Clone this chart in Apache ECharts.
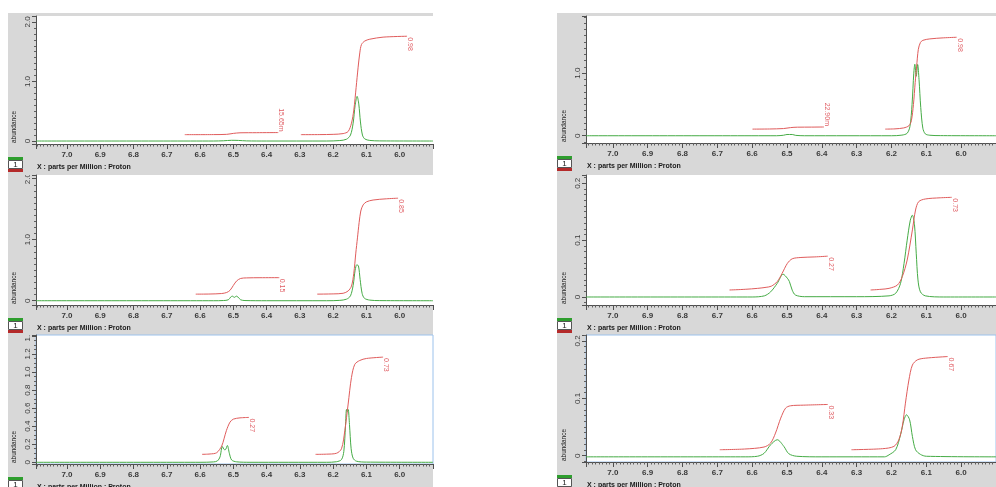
<!DOCTYPE html>
<html><head><meta charset="utf-8">
<script src="https://cdn.jsdelivr.net/npm/echarts@6/dist/echarts.min.js"></script>
<style>html,body{margin:0;padding:0;background:#fff}#c{width:996px;height:487px}</style>
</head><body><div id="c"></div>
<script>
// ---------- data (ppm, abundance) ----------
const greenL1 = [[7.093,0],[6.56,0],[6.53,0.004],[6.505,0.012],[6.485,0.01],[6.46,0.002],[6.40,0],[6.22,0],[6.18,0.008],[6.16,0.03],[6.148,0.1],[6.14,0.3],[6.134,0.6],[6.128,0.75],[6.123,0.62],[6.118,0.32],[6.112,0.1],[6.105,0.035],[6.09,0.01],[6.06,0.002],[5.9,0]];
const redL1a = [[6.646,0.107],[6.56,0.108],[6.52,0.112],[6.50,0.128],[6.48,0.138],[6.43,0.14],[6.365,0.142]];
const redL1b = [[6.297,0.107],[6.24,0.108],[6.20,0.112],[6.17,0.125],[6.155,0.16],[6.145,0.3],[6.138,0.52],[6.131,0.9],[6.125,1.24],[6.12,1.48],[6.115,1.62],[6.105,1.68],[6.09,1.71],[6.05,1.745],[5.978,1.76]];
const labelsL1 = ['15.65m', '0.98'];

const greenL2 = [[7.093,0],[6.56,0],[6.53,0.003],[6.515,0.015],[6.508,0.06],[6.503,0.075],[6.497,0.055],[6.491,0.075],[6.486,0.06],[6.478,0.015],[6.465,0.003],[6.40,0],[6.22,0],[6.18,0.006],[6.16,0.025],[6.148,0.08],[6.14,0.25],[6.134,0.5],[6.129,0.59],[6.124,0.57],[6.119,0.35],[6.113,0.12],[6.106,0.04],[6.09,0.01],[6.06,0.002],[5.9,0]];
const redL2a = [[6.613,0.108],[6.57,0.11],[6.535,0.118],[6.52,0.135],[6.51,0.17],[6.5,0.25],[6.49,0.325],[6.478,0.365],[6.46,0.374],[6.42,0.377],[6.362,0.378]];
const redL2b = [[6.248,0.108],[6.2,0.112],[6.17,0.122],[6.155,0.16],[6.145,0.24],[6.138,0.45],[6.132,0.78],[6.127,1.03],[6.122,1.28],[6.117,1.47],[6.11,1.57],[6.1,1.62],[6.08,1.65],[6.04,1.67],[6.005,1.68]];
const labelsL2 = ['0.15', '0.85'];

const greenL3 = [[7.093,0],[6.6,0],[6.56,0.004],[6.548,0.015],[6.54,0.06],[6.533,0.175],[6.527,0.14],[6.524,0.14],[6.518,0.186],[6.512,0.1],[6.505,0.025],[6.49,0.005],[6.45,0],[6.22,0],[6.19,0.006],[6.175,0.03],[6.168,0.12],[6.163,0.4],[6.16,0.585],[6.158,0.56],[6.155,0.585],[6.151,0.42],[6.146,0.15],[6.14,0.045],[6.13,0.012],[6.1,0.002],[5.9,0]];
const redL3a = [[6.594,0.088],[6.57,0.092],[6.55,0.106],[6.535,0.18],[6.528,0.26],[6.521,0.35],[6.51,0.445],[6.5,0.478],[6.48,0.492],[6.453,0.497]];
const redL3b = [[6.253,0.088],[6.22,0.09],[6.19,0.1],[6.175,0.15],[6.165,0.35],[6.155,0.645],[6.145,0.94],[6.135,1.085],[6.12,1.128],[6.1,1.15],[6.05,1.165]];
const labelsL3 = ['0.27', '0.73'];

const greenR1 = [[7.077,0],[6.53,0],[6.51,0.008],[6.5,0.02],[6.485,0.02],[6.475,0.006],[6.45,0],[6.2,0],[6.17,0.01],[6.155,0.04],[6.147,0.15],[6.141,0.5],[6.136,1.0],[6.133,1.143],[6.129,0.95],[6.125,1.14],[6.121,0.9],[6.116,0.45],[6.11,0.12],[6.103,0.03],[6.09,0.008],[6.06,0.002],[5.9,0]];
const redR1a = [[6.599,0.106],[6.55,0.108],[6.51,0.115],[6.49,0.13],[6.47,0.137],[6.43,0.138],[6.394,0.14]];
const redR1b = [[6.218,0.106],[6.19,0.11],[6.165,0.125],[6.15,0.16],[6.143,0.24],[6.137,0.5],[6.132,0.85],[6.128,1.1],[6.123,1.38],[6.117,1.49],[6.11,1.525],[6.09,1.548],[6.05,1.565],[6.013,1.574]];
const labelsR1 = ['22.90m', '0.98'];

const greenR2 = [[7.077,0],[6.6,0],[6.565,0.002],[6.547,0.009],[6.528,0.024],[6.511,0.04],[6.499,0.033],[6.493,0.027],[6.485,0.012],[6.476,0.0035],[6.45,0.0005],[6.3,0.0005],[6.207,0.002],[6.188,0.0065],[6.174,0.024],[6.164,0.059],[6.155,0.1],[6.146,0.135],[6.14,0.144],[6.134,0.127],[6.129,0.077],[6.124,0.03],[6.117,0.009],[6.103,0.002],[6.05,0],[5.9,0]];
const redR2a = [[6.665,0.0123],[6.62,0.0135],[6.584,0.0152],[6.56,0.017],[6.545,0.019],[6.528,0.027],[6.514,0.0416],[6.499,0.059],[6.485,0.0672],[6.46,0.0695],[6.42,0.0705],[6.383,0.0718]];
const redR2b = [[6.26,0.0123],[6.23,0.0135],[6.207,0.0152],[6.183,0.021],[6.169,0.0358],[6.155,0.065],[6.14,0.118],[6.131,0.153],[6.122,0.1677],[6.103,0.1724],[6.06,0.1745],[6.027,0.1753]];
const labelsR2 = ['0.27', '0.73'];

const greenR3 = [[7.077,-0.002],[6.62,-0.002],[6.585,-0.001],[6.566,0.004],[6.547,0.019],[6.528,0.0278],[6.509,0.0162],[6.495,0.0035],[6.472,-0.001],[6.4,-0.002],[6.22,-0.002],[6.207,0.0015],[6.188,0.0104],[6.174,0.0365],[6.164,0.0626],[6.157,0.0713],[6.148,0.0626],[6.14,0.0336],[6.131,0.0104],[6.117,0.0023],[6.1,-0.001],[5.9,-0.002]];
const redR3a = [[6.693,0.0104],[6.622,0.0116],[6.566,0.0151],[6.547,0.022],[6.533,0.0394],[6.518,0.0655],[6.504,0.0829],[6.49,0.087],[6.452,0.0881],[6.383,0.0893]];
const redR3b = [[6.315,0.0104],[6.226,0.0122],[6.193,0.0162],[6.179,0.0278],[6.169,0.051],[6.16,0.0916],[6.15,0.132],[6.14,0.158],[6.126,0.167],[6.103,0.17],[6.039,0.1728]];
const labelsR3 = ['0.33', '0.67'];

const xAxisTitle = 'X : parts per Million : Proton';
const yAxisTitle = 'abundance';

// ---------- layout ----------
const FONT = 'Liberation Sans';
const GREEN = '#45ab45', RED = '#e05c5c', LABELRED = '#d8343c', GRAY = '#d8d8d8';
const cols = [
  {x0: 8, x1: 433, plotLeft: 36, plotWidth: 397, xMin: 5.9, xMax: 7.093},
  {x0: 557, x1: 996, plotLeft: 586, plotWidth: 415.5, xMin: 5.9, xMax: 7.077}
];
const rows = [{top: 13, bottom: 173}, {top: 173, bottom: 333}, {top: 333, bottom: 490}];
const panels = [
  {col:0,row:0, plotTop:16, axisY:144, yMin:-0.05, yMax:2.1, ySplit:2, yMinor:10, green:greenL1, reds:[redL1a,redL1b], labels:labelsL1, above:[true,false], sel:false},
  {col:0,row:1, plotTop:175, axisY:305, yMin:-0.07, yMax:2.06, ySplit:2, yMinor:10, green:greenL2, reds:[redL2a,redL2b], labels:labelsL2, above:[false,false], sel:false},
  {col:0,row:2, plotTop:335, axisY:464, yMin:-0.019, yMax:1.41, ySplit:7, yMinor:4, green:greenL3, reds:[redL3a,redL3b], labels:labelsL3, above:[false,false], sel:true},
  {col:1,row:0, plotTop:16, axisY:143, yMin:-0.116, yMax:1.914, ySplit:2, yMinor:10, green:greenR1, reds:[redR1a,redR1b], labels:labelsR1, above:[true,false], sel:false},
  {col:1,row:1, plotTop:175, axisY:305, yMin:-0.0141, yMax:0.2146, ySplit:2, yMinor:10, green:greenR2, reds:[redR2a,redR2b], labels:labelsR2, above:[false,false], sel:false},
  {col:1,row:2, plotTop:335, axisY:462, yMin:-0.011, yMax:0.2104, ySplit:2, yMinor:10, green:greenR3, reds:[redR3a,redR3b], labels:labelsR3, above:[false,false], sel:true}
];

const grid = [], xAxis = [], yAxis = [], series = [], graphic = [];
rows.forEach(r => cols.forEach(c => {
  graphic.push({type:'rect', z:-10, silent:true, shape:{x:c.x0, y:r.top, width:c.x1-c.x0, height:r.bottom-r.top}, style:{fill:GRAY}});
}));

panels.forEach((p, i) => {
  const c = cols[p.col];
  grid.push({left:c.plotLeft, top:p.plotTop, width:c.plotWidth, height:p.axisY-p.plotTop,
    show:true, backgroundColor:'#ffffff', borderWidth: p.sel ? 1 : 0, borderColor:'#9cc2ec'});
  xAxis.push({type:'value', gridIndex:i, inverse:true, min:c.xMin, max:c.xMax, interval:0.1,
    axisLine:{show:true, onZero:false, lineStyle:{color:'#505050', width:1}},
    axisTick:{show:true, length:5, lineStyle:{color:'#505050'}},
    minorTick:{show:true, splitNumber:10, length:2.5, lineStyle:{color:'#606060'}},
    splitLine:{show:false},
    axisLabel:{showMinLabel:false, showMaxLabel:false, fontFamily:FONT, fontSize:8, fontWeight:'bold', color:'#3a3a3a', margin:7,
      formatter: v => v.toFixed(1)}});
  yAxis.push({type:'value', gridIndex:i, min:p.yMin, max:p.yMax, splitNumber:p.ySplit,
    axisLine:{show:true, onZero:false, lineStyle:{color:'#505050', width:1}},
    axisTick:{show:true, length:4, lineStyle:{color:'#505050'}},
    minorTick:{show:true, splitNumber:p.yMinor, length:2, lineStyle:{color:'#606060'}},
    splitLine:{show:false},
    axisLabel:{rotate:90, showMinLabel:false, showMaxLabel:false, fontFamily:FONT, fontSize:8, color:'#3a3a3a', margin:4,
      formatter: v => Math.abs(v) < 1e-9 ? '0' : v.toFixed(1)}});
  series.push({type:'line', xAxisIndex:i, yAxisIndex:i, data:p.green, showSymbol:false, smooth:0.3, silent:true,
    lineStyle:{color:GREEN, width:1}, z:2});
  p.reds.forEach(r => series.push({type:'line', xAxisIndex:i, yAxisIndex:i, data:r, showSymbol:false, smooth:0.3, silent:true,
    lineStyle:{color:RED, width:1}, z:3}));
  series.push({type:'scatter', xAxisIndex:i, yAxisIndex:i, symbolSize:0, silent:true, z:4,
    data: p.labels.map((t, k) => {
      const e = p.reds[k][p.reds[k].length - 1];
      return {value:[e[0], e[1]], name:t,
        label: p.above[k] ? {position:[3, -1], align:'right'} : {position:[3, 1], align:'left'}};
    }),
    label:{show:true, formatter:'{b}', rotate:-90, verticalAlign:'middle', fontFamily:FONT, fontSize:7, color:LABELRED}});

  // mask: tick labels that run past the top of a lower panel are cut by the panel above
  if (p.row > 0) {
    graphic.push({type:'rect', z:5, silent:true, shape:{x:c.plotLeft-18, y:p.plotTop-7, width:16, height:7}, style:{fill:GRAY}});
  }
  // status bar: icon + axis title
  const ix = c.x0, iy = p.axisY + 13;
  graphic.push({type:'rect', z:10, silent:true, shape:{x:ix, y:iy, width:15, height:3}, style:{fill:'#2e9e2e'}});
  graphic.push({type:'rect', z:10, silent:true, shape:{x:ix+0.5, y:iy+3.5, width:14, height:8}, style:{fill:'#ffffff', stroke:'#555', lineWidth:1}});
  graphic.push({type:'text', z:11, silent:true, x:ix+7.5, y:iy+7.5, style:{text:'1', fontFamily:FONT, fontSize:8, fill:'#222', align:'center', verticalAlign:'middle'}});
  graphic.push({type:'rect', z:10, silent:true, shape:{x:ix, y:iy+12, width:15, height:3}, style:{fill:'#b42a2a'}});
  graphic.push({type:'text', z:10, silent:true, x:c.plotLeft+1, y:p.axisY+23, style:{text:xAxisTitle, fontFamily:FONT, fontSize:7, fontWeight:'bold', fill:'#1a1a1a', verticalAlign:'middle'}});
  graphic.push({type:'text', z:10, silent:true, x:c.plotLeft-22, y:p.axisY-17, rotation:Math.PI/2,
    style:{text:yAxisTitle, fontFamily:FONT, fontSize:6.5, fill:'#222', align:'center', verticalAlign:'middle'}});
});

const chart = echarts.init(document.getElementById('c'), null, {renderer:'canvas'});
chart.setOption({animation:false, backgroundColor:'#ffffff', grid, xAxis, yAxis, series, graphic});
</script></body></html>
